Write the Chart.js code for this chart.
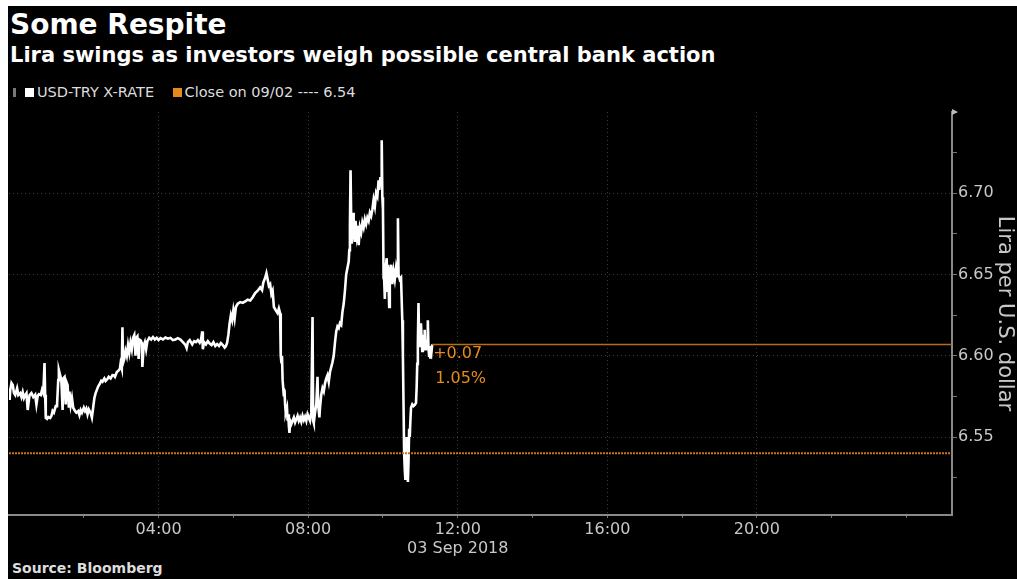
<!DOCTYPE html>
<html>
<head>
<meta charset="utf-8">
<script src="https://cdn.jsdelivr.net/npm/chart.js@4.4.1/dist/chart.umd.min.js"></script>
<style>
  html, body { margin: 0; padding: 0; background: #fff; width: 1017px; height: 579px; overflow: hidden; }
  #frame { position: absolute; left: 8px; top: 6px; width: 1009px; height: 573px; background: #000; }
  .txt { position: absolute; white-space: nowrap; color: #fff; font-family: "DejaVu Sans", sans-serif; }
  #titulo { left: 10px; top: 8px; font-size: 28px; font-weight: bold; }
  #subtitulo { left: 10px; top: 43px; font-size: 21px; font-weight: bold; }
  #leyenda { left: 13px; top: 84px; font-size: 14.5px; color: #ddd; }
  #leyenda span.cuadro { display: inline-block; width: 9px; height: 9px; margin-right: 3px; vertical-align: 0px; }
  #fuente { left: 12px; top: 560px; font-size: 14px; font-weight: bold; color: #ddd; }
  #contenedor { position: absolute; left: 0; top: 100px; width: 1017px; height: 479px; }
</style>
</head>
<body>
<div id="frame"></div>
<div class="txt" id="titulo">Some Respite</div>
<div class="txt" id="subtitulo">Lira swings as investors weigh possible central bank action</div>
<div class="txt" id="leyenda"><span class="cuadro" style="width:3px;background:#777;margin-right:9px"></span><span class="cuadro" style="background:#fff"></span>USD-TRY X-RATE &nbsp;&nbsp;&nbsp;<span class="cuadro" style="background:#e8891c"></span>Close on 09/02 ---- 6.54</div>
<div class="txt" id="fuente">Source: Bloomberg</div>
<div id="contenedor"><canvas id="grafico"></canvas></div>
<script>
// minutos desde las 00:00 del 03 Sep 2018
const minutos = [
  1, 2, 4, 6, 8, 10, 13, 15, 18, 20, 22, 24, 26, 28, 30, 31, 33, 36, 39, 42, 44, 46, 48, 51, 53, 55, 57, 58, 59, 61,
  63, 66, 68, 70, 72, 75, 77, 79, 80, 82, 84, 86, 87, 89, 91, 92, 94, 96, 97, 99, 101, 103, 106, 108, 111, 113, 115, 117, 120, 122,
  124, 126, 128, 131, 133, 135, 137, 139, 141, 143, 146, 148, 150, 153, 155, 158, 160, 163, 166, 168, 170, 173, 176, 178, 179, 181, 182, 183, 185, 187,
  189, 191, 193, 195, 197, 199, 201, 203, 204, 206, 208, 209, 211, 213, 214, 216, 218, 220, 222, 225, 228, 231, 234, 237, 240, 243, 247, 251, 255, 259,
  263, 267, 271, 275, 279, 283, 285, 287, 290, 294, 297, 300, 303, 306, 308, 310, 311, 313, 316, 319, 322, 325, 328, 331, 334, 337, 340, 343, 346, 348,
  350, 352, 354, 356, 358, 360, 362, 364, 367, 371, 375, 379, 383, 387, 391, 395, 399, 403, 406, 408, 411, 413, 415, 417, 419, 421, 423, 425, 428, 431,
  433, 435, 436, 437, 438, 439, 440, 441, 442, 443, 444, 446, 447, 448, 449, 450, 451, 453, 455, 457, 459, 461, 463, 465, 467, 469, 471, 473, 475, 477,
  479, 481, 483, 485, 487, 488, 489, 491, 493, 495, 496, 498, 499, 501, 503, 505, 507, 509, 511, 513, 515, 517, 519, 521, 523, 525, 527, 529, 531, 533,
  535, 537, 539, 541, 543, 545, 546, 547, 548, 549, 550, 551, 552, 553, 555, 556, 558, 560, 561, 563, 565, 567, 569, 571, 573, 575, 577, 579, 581, 583,
  585, 587, 589, 591, 593, 594, 596, 597, 598, 599, 600, 601, 602, 603, 604, 606, 607, 608, 610, 611, 613, 615, 617, 619, 621, 623, 624, 625, 627, 629,
  631, 632, 633, 634, 635, 636, 637, 638, 639, 640, 641, 642, 643, 644, 645, 647, 649, 651, 653, 654, 655, 656, 657, 658, 659, 660, 661, 662, 663, 664,
  665, 666, 667, 668, 669, 671, 672, 673, 674, 675, 676, 677, 678, 679
];
const usdTry = [
  6.5728, 6.5789, 6.5832, 6.5820, 6.5770, 6.5758, 6.5800, 6.5758, 6.5770, 6.5746, 6.5776, 6.5740, 6.5758, 6.5770, 6.5666, 6.5700, 6.5758, 6.5770, 6.5746, 6.5760, 6.5700, 6.5752, 6.5764, 6.5758, 6.5790, 6.5770, 6.5955, 6.5760, 6.5617, 6.5611,
  6.5623, 6.5617, 6.5629, 6.5660, 6.5650, 6.5690, 6.5690, 6.5850, 6.5912, 6.5881, 6.5850, 6.5666, 6.5860, 6.5869, 6.5700, 6.5840, 6.5820, 6.5680, 6.5780, 6.5697, 6.5740, 6.5680, 6.5660, 6.5650, 6.5660, 6.5635, 6.5666, 6.5650, 6.5680, 6.5660,
  6.5675, 6.5640, 6.5670, 6.5648, 6.5620, 6.5680, 6.5740, 6.5770, 6.5790, 6.5810, 6.5830, 6.5846, 6.5840, 6.5860, 6.5845, 6.5857, 6.5870, 6.5860, 6.5881, 6.5880, 6.5870, 6.5900, 6.5910, 6.5920, 6.5950, 6.5920, 6.6176, 6.5955, 6.5980, 6.6030,
  6.6000, 6.6066, 6.6020, 6.6080, 6.6040, 6.6110, 6.6127, 6.6000, 6.6110, 6.6120, 6.5980, 6.6100, 6.6096, 6.6080, 6.5931, 6.6060, 6.6084, 6.6040, 6.6090, 6.6110, 6.6100, 6.6115, 6.6100, 6.6110, 6.6096, 6.6108, 6.6100, 6.6112, 6.6105, 6.6110,
  6.6096, 6.6100, 6.6108, 6.6100, 6.6084, 6.6066, 6.6047, 6.6084, 6.6096, 6.6070, 6.6090, 6.6084, 6.6096, 6.6080, 6.6096, 6.6150, 6.6040, 6.6084, 6.6070, 6.6090, 6.6075, 6.6066, 6.6084, 6.6060, 6.6072, 6.6060, 6.6078, 6.6066, 6.6050, 6.6060,
  6.6080, 6.6130, 6.6200, 6.6250, 6.6220, 6.6280, 6.6230, 6.6300, 6.6320, 6.6330, 6.6325, 6.6335, 6.6345, 6.6340, 6.6360, 6.6385, 6.6400, 6.6420, 6.6404, 6.6450, 6.6480, 6.6508, 6.6470, 6.6430, 6.6440, 6.6380, 6.6400, 6.6300, 6.6280, 6.6262,
  6.6290, 6.6260, 6.6000, 6.5960, 6.6000, 6.5850, 6.5800, 6.5750, 6.5790, 6.5700, 6.5650, 6.5680, 6.5600, 6.5640, 6.5570, 6.5525, 6.5600, 6.5580, 6.5600, 6.5620, 6.5590, 6.5610, 6.5630, 6.5600, 6.5620, 6.5595, 6.5630, 6.5605, 6.5625, 6.5600,
  6.5640, 6.5620, 6.5600, 6.5650, 6.6238, 6.5600, 6.5586, 6.5650, 6.5700, 6.5870, 6.5700, 6.5620, 6.5680, 6.5760, 6.5800, 6.5780, 6.5830, 6.5860, 6.5880, 6.5840, 6.5900, 6.5930, 6.5960, 6.6000, 6.6080, 6.6150, 6.6180, 6.6170, 6.6200, 6.6190,
  6.6270, 6.6320, 6.6400, 6.6500, 6.6540, 6.6580, 6.6650, 6.6800, 6.7141, 6.6850, 6.6690, 6.6780, 6.6880, 6.6800, 6.6700, 6.6830, 6.6740, 6.6800, 6.6680, 6.6790, 6.6760, 6.6820, 6.6790, 6.6840, 6.6810, 6.6850, 6.6830, 6.6880, 6.6860, 6.6900,
  6.6960, 6.6920, 6.7000, 6.6980, 6.7080, 6.7020, 6.7100, 6.7050, 6.7326, 6.6975, 6.6900, 6.6480, 6.6465, 6.6350, 6.6530, 6.6600, 6.6400, 6.6560, 6.6300, 6.6500, 6.6560, 6.6440, 6.6520, 6.6470, 6.6540, 6.6490, 6.6846, 6.6500, 6.6470, 6.6480,
  6.6219, 6.6000, 6.5700, 6.5400, 6.5300, 6.5236, 6.5400, 6.5500, 6.5300, 6.5224, 6.5350, 6.5550, 6.5500, 6.5600, 6.5680, 6.5700, 6.5690, 6.5697, 6.5710, 6.5800, 6.5950, 6.6080, 6.6324, 6.6100, 6.6150, 6.6060, 6.6200, 6.6100, 6.6030, 6.6130,
  6.6080, 6.6120, 6.6160, 6.6040, 6.6100, 6.6060, 6.6219, 6.6050, 6.6000, 6.6060, 6.5990, 6.6050, 6.6030, 6.6070
];

const cierreAnterior = 6.54;          // Close on 09/02
const textoCambio = ['+0.07', '1.05%'];
const ticksY = [6.525, 6.55, 6.575, 6.60, 6.625, 6.65, 6.675, 6.70, 6.725, 6.75];
const ticksYMayores = [6.55, 6.60, 6.65, 6.70];
const ticksX = [120, 240, 360, 480, 600, 720, 840, 960, 1080, 1200, 1320, 1440];
const etiquetasX = { 240: '04:00', 480: '08:00', 720: ['12:00', '03 Sep 2018'], 960: '16:00', 1200: '20:00' };
const finEje = 1513;   // el eje llega un poco más allá de las 24:00

const naranja = '#e8891c';
const ultimoMin = minutos[minutos.length - 1];
const ultimoValor = usdTry[usdTry.length - 1];

Chart.defaults.font.family = '"DejaVu Sans", sans-serif';

// dibuja el cambio (+0.07 / 1.05%) y la flecha del eje
const extrasPlugin = {
    id: 'extras',
    afterDraw(chart) {
        const { ctx, scales } = chart;
        const x = scales.x.getPixelForValue(ultimoMin);
        const y = scales.y.getPixelForValue(ultimoValor);
        ctx.save();
        ctx.fillStyle = naranja;
        ctx.font = '16px "DejaVu Sans", sans-serif';
        ctx.textBaseline = 'middle';
        ctx.fillText(textoCambio[0], x + 1, y + 9);
        ctx.fillText(textoCambio[1], x + 3, y + 34);
        // flecha arriba del eje derecho
        const ax = scales.y.left;
        const ay = scales.y.top;
        ctx.fillStyle = '#bbb';
        ctx.beginPath();
        ctx.moveTo(ax, ay - 3);
        ctx.lineTo(ax + 6, ay);
        ctx.lineTo(ax, ay + 3);
        ctx.fill();
        ctx.restore();
    }
};

const ctx = document.getElementById('grafico').getContext('2d');

new Chart(ctx, {
    type: 'line',
    data: {
        datasets: [
            {
                label: 'Close on 09/02',
                data: [{ x: 0, y: cierreAnterior }, { x: finEje, y: cierreAnterior }],
                borderColor: '#c47418',
                borderWidth: 2,
                borderDash: [2, 1],
                pointRadius: 0
            },
            {
                label: 'Último',
                data: [{ x: ultimoMin, y: ultimoValor }, { x: finEje, y: ultimoValor }],
                borderColor: '#b86c16',
                borderWidth: 1.5,
                pointRadius: 0
            },
            {
                label: 'USD-TRY X-RATE',
                data: minutos.map((m, i) => ({ x: m, y: usdTry[i] })),
                borderColor: '#ffffff',
                borderWidth: 2.6,
                pointRadius: 0,
                tension: 0
            }
        ]
    },
    options: {
        responsive: true,
        maintainAspectRatio: false,
        animation: false,
        layout: { padding: { left: 9, top: 12, right: 0, bottom: 0 } },
        plugins: { legend: { display: false }, tooltip: { enabled: false } },
        scales: {
            x: {
                type: 'linear',
                min: 0,
                max: finEje,
                afterBuildTicks: (scale) => { scale.ticks = ticksX.map(v => ({ value: v })); },
                afterFit: (scale) => { scale.height = 64; },
                ticks: {
                    autoSkip: false,
                    maxRotation: 0,
                    color: '#c8c8c8',
                    font: { size: 16 },
                    padding: 2,
                    callback: (v) => etiquetasX[v] || ''
                },
                grid: {
                    color: (c) => (c.tick && c.tick.value % 240 === 0 && c.tick.value < 1440) ? '#3c3c3c' : 'transparent',
                    tickColor: '#777',
                    tickLength: 3,
                    lineWidth: 1
                },
                border: { color: '#8a8a8a', width: 2, dash: [1, 3] }
            },
            y: {
                position: 'right',
                min: 6.502,
                max: 6.75,
                afterBuildTicks: (scale) => { scale.ticks = ticksY.map(v => ({ value: v })); },
                afterFit: (scale) => { scale.width = 65; },
                ticks: {
                    color: '#c8c8c8',
                    font: { size: 16 },
                    padding: 1,
                    callback: (v) => ticksYMayores.some(t => Math.abs(t - v) < 1e-6) ? v.toFixed(2) : ''
                },
                grid: {
                    color: (c) => (c.tick && ticksYMayores.some(t => Math.abs(t - c.tick.value) < 1e-6)) ? '#3c3c3c' : 'transparent',
                    tickColor: '#777',
                    tickLength: 5,
                    lineWidth: 1
                },
                border: { color: '#8a8a8a', width: 2, dash: [1, 3] },
                title: {
                    display: true,
                    text: 'Lira per U.S. dollar',
                    color: '#c8c8c8',
                    font: { size: 21 },
                    padding: { top: 0, bottom: -4 }
                }
            }
        }
    },
    plugins: [extrasPlugin]
});
</script>
</body>
</html>
